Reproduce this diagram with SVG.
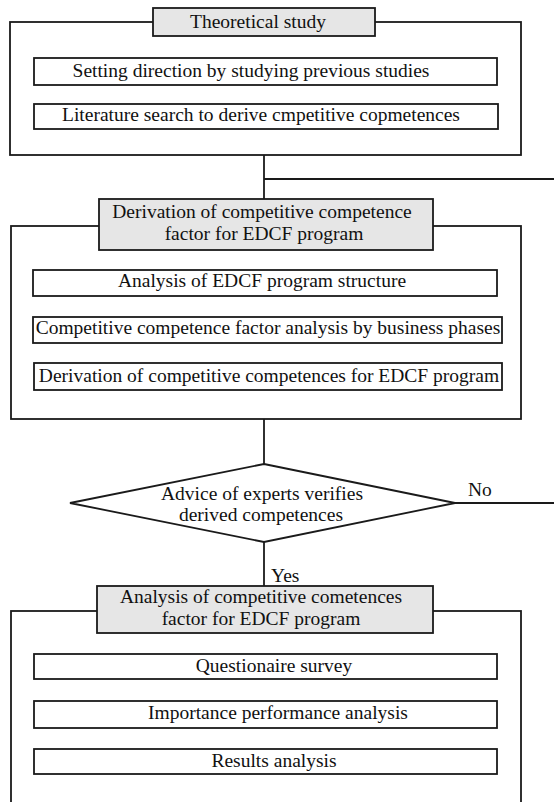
<svg xmlns="http://www.w3.org/2000/svg" width="554" height="802" viewBox="0 0 554 802">
<style>
.frame{fill:#fff;stroke:#1a1a1a;stroke-width:1.8}
.head{fill:#e6e6e6;stroke:#1a1a1a;stroke-width:1.8}
.box{fill:#fff;stroke:#1a1a1a;stroke-width:1.8}
.line{fill:none;stroke:#1a1a1a;stroke-width:1.8}
text{font-family:'Liberation Serif','Times New Roman','DejaVu Serif',serif;font-size:19.5px;fill:#111;text-anchor:middle}
</style>
<rect width="554" height="802" fill="#fff"/>
<g id="connectors">
<path class="line" d="M264 155V199"/>
<path class="line" d="M264 179H554"/>
<path class="line" d="M264 419V464"/>
<path class="line" d="M455 503H554"/>
<path class="line" d="M264 542V586"/>
</g>
<g id="theoretical-study">
<rect class="frame" x="10" y="22" width="511" height="133"/>
<rect class="head" x="153" y="8" width="222" height="28"/>
<text x="258" y="28">Theoretical study</text>
</g>
<g id="setting-direction">
<rect class="box" x="34" y="58" width="463" height="27"/>
<text x="251" y="77">Setting direction by studying previous studies</text>
</g>
<g id="literature-search">
<rect class="box" x="34" y="104" width="464" height="25"/>
<text x="261" y="121">Literature search to derive cmpetitive copmetences</text>
</g>
<g id="derivation-stage">
<rect class="frame" x="11" y="226" width="510" height="193"/>
<rect class="head" x="99" y="199" width="334" height="51"/>
<text x="262" y="218">Derivation of competitive competence</text>
<text x="264" y="240">factor for EDCF program</text>
</g>
<g id="analysis-structure">
<rect class="box" x="33" y="270" width="464" height="26"/>
<text x="262" y="287">Analysis of EDCF program structure</text>
</g>
<g id="factor-analysis">
<rect class="box" x="33" y="317" width="469" height="26"/>
<text x="268" y="334">Competitive competence factor analysis by business phases</text>
</g>
<g id="derivation-competences">
<rect class="box" x="34" y="363" width="468" height="27"/>
<text x="269" y="382">Derivation of competitive competences for EDCF program</text>
</g>
<g id="decision">
<polygon class="box" points="264,464 455,503 264,542 70,503"/>
<text x="262" y="500">Advice of experts verifies</text>
<text x="261" y="521">derived competences</text>
</g>
<text x="468" y="496" style="text-anchor:start">No</text>
<text x="271" y="582" style="text-anchor:start">Yes</text>
<g id="analysis-stage">
<rect class="frame" x="11" y="611" width="510" height="220"/>
<rect class="head" x="97" y="586" width="336" height="47"/>
<text x="261" y="603">Analysis of competitive cometences</text>
<text x="261" y="625">factor for EDCF program</text>
</g>
<g id="questionnaire">
<rect class="box" x="34" y="654" width="463" height="25"/>
<text x="274" y="672">Questionaire survey</text>
</g>
<g id="ipa">
<rect class="box" x="34" y="701" width="463" height="27"/>
<text x="278" y="719">Importance performance analysis</text>
</g>
<g id="results">
<rect class="box" x="34" y="749" width="463" height="25"/>
<text x="274" y="767">Results analysis</text>
</g>
</svg>
